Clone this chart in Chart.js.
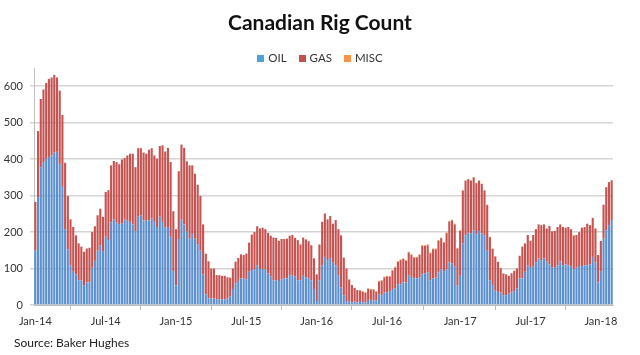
<!DOCTYPE html>
<html>
<head>
<meta charset="utf-8">
<script src="https://cdn.jsdelivr.net/npm/chart.js@4/dist/chart.umd.min.js"></script>
<style>
  html, body { margin: 0; padding: 0; background: #fff; }
  #wrap { position: relative; width: 640px; height: 355px; overflow: hidden; font-family: Lato, "Liberation Sans", sans-serif; }
  #c { position: absolute; left: 0; top: 0; }
  #title { position: absolute; left: 0; width: 640px; top: 9px; text-align: center; font-weight: bold; font-size: 21px; line-height: 26px; color: #111; }
  #legend { position: absolute; left: 0; width: 640px; top: 51px; display: flex; justify-content: center; gap: 12px; font-size: 11.5px; line-height: 14px; color: #333; }
  #legend span.item { display: inline-flex; align-items: center; }
  #legend i { display: inline-block; width: 7px; height: 7px; margin-right: 4px; }
  #source { position: absolute; left: 14px; top: 335px; font-size: 12px; line-height: 16px; color: #222; }
</style>
</head>
<body>
<div id="wrap">
  <canvas id="c" width="640" height="355"></canvas>
  <div id="title">Canadian Rig Count</div>
  <div id="legend">
    <span class="item"><i style="background:#4f9fd8"></i>OIL</span>
    <span class="item"><i style="background:#c0504d"></i>GAS</span>
    <span class="item"><i style="background:#f79646"></i>MISC</span>
  </div>
  <div id="source">Source: Baker Hughes</div>
</div>
<script>
// Weekly Canadian rig counts (Baker Hughes), first week ending 2014-01-03
const firstWeek = '2014-01-03';

const oil = [
  150,296,378,392,401,406,410,418,420,387,324,208,153,108,91,84,68,67,53,62,62,102,121,149,164,146,187,178,226,235,226,222,223,234,231,228,
  221,203,242,246,232,231,232,237,228,214,242,228,212,214,187,93,53,181,234,221,201,182,195,182,167,149,84,29,18,18,18,16,16,15,15,18,
  23,44,59,66,73,73,70,91,96,98,109,99,99,97,87,78,68,68,66,70,73,73,82,82,78,68,68,80,76,73,68,44,11,68,109,132,
  123,129,116,109,82,48,27,11,9,7,9,7,11,7,7,14,14,12,12,29,27,34,34,38,44,46,57,57,62,62,82,77,73,73,76,84,
  87,89,68,73,75,89,98,93,98,117,114,105,53,80,169,191,198,196,205,193,203,196,190,149,68,55,39,36,34,27,27,31,34,38,46,73,
  73,91,109,102,105,117,128,123,128,119,111,102,102,109,120,109,111,109,105,98,102,107,107,109,109,111,132,117,62,93,182,205,219,233
];

const gas = [
  133,181,187,199,208,214,214,213,204,201,197,182,146,127,123,107,101,93,93,93,95,98,95,97,100,96,123,137,157,160,166,164,176,169,179,187,
  194,175,188,184,186,184,194,193,182,187,194,210,209,217,205,164,155,186,206,210,193,201,188,178,163,150,137,112,102,82,82,66,66,65,65,58,
  52,56,60,63,66,64,71,80,97,102,107,111,113,111,111,112,117,116,110,111,108,109,108,110,106,110,98,105,104,102,96,84,73,98,119,119,
  112,115,107,124,126,143,103,89,61,48,38,34,28,29,26,30,28,30,24,35,39,42,44,40,50,57,61,66,64,59,62,60,57,57,61,78,
  75,75,74,80,78,87,85,78,99,112,118,116,102,123,144,149,147,145,145,141,138,136,124,125,118,99,94,82,67,59,57,49,53,56,54,62,
  87,78,83,74,87,91,93,96,93,91,106,100,101,105,101,105,101,105,103,92,90,93,105,105,114,108,107,93,75,83,93,118,118,109
];

const misc = [
  0,0,0,0,0,0,0,0,0,0,0,0,0,0,0,0,0,0,0,0,0,0,0,0,0,0,0,0,0,0,0,0,0,0,0,0,
  0,0,0,0,0,0,0,0,0,0,0,0,0,0,0,0,0,0,0,0,0,0,0,0,0,0,0,0,0,0,0,0,0,0,0,0,
  0,0,0,0,0,0,0,0,0,0,0,0,0,0,0,0,0,0,0,0,0,0,0,0,0,0,0,0,0,0,0,0,0,0,0,0,
  0,0,0,0,0,0,0,0,0,0,0,0,2,2,2,2,2,2,2,2,2,2,2,2,2,2,2,2,2,2,2,2,2,2,2,2,
  2,2,2,2,2,2,2,2,2,2,2,2,2,2,2,2,1,1,1,1,1,1,1,1,1,1,1,1,1,1,1,0,0,0,0,0,
  0,0,0,0,0,0,0,0,0,0,0,0,0,0,0,0,0,0,0,2,0,0,0,0,0,0,0,0,0,0,0,0,0,0
];

const yTicks = [0, 100, 200, 300, 400, 500, 600];
const monthNames = ['Jan','Feb','Mar','Apr','May','Jun','Jul','Aug','Sep','Oct','Nov','Dec'];

// weekly category labels
const weeks = [];
{
  const start = new Date(firstWeek + 'T00:00:00Z');
  for (let i = 0; i < oil.length; i++) {
    const d = new Date(start.getTime() + i * 7 * 86400000);
    weeks.push(d.toISOString().slice(0, 10));
  }
}
const tickIdx = new Set();
weeks.forEach((w, i) => {
  const m = +w.slice(5, 7), day = +w.slice(8, 10);
  if ((m === 1 || m === 7) && day <= 7) tickIdx.add(i);
});
function fmtWeek(w) {
  return monthNames[+w.slice(5, 7) - 1] + '-' + w.slice(2, 4);
}

const tickFont = { family: 'Lato, "Liberation Sans", sans-serif', size: 11 };

new Chart(document.getElementById('c'), {
  type: 'bar',
  data: {
    labels: weeks,
    datasets: [
      { label: 'OIL', data: oil, backgroundColor: '#5b8fcf', borderWidth: 0 },
      { label: 'GAS', data: gas, backgroundColor: '#c65350', borderWidth: 0 },
      { label: 'MISC', data: misc, backgroundColor: '#f79646', borderWidth: 0 }
    ]
  },
  options: {
    responsive: false,
    animation: false,
    devicePixelRatio: 1,
    layout: { padding: { top: 68, right: 27, bottom: 0, left: 0 } },
    datasets: { bar: { barPercentage: 0.78, categoryPercentage: 1.0 } },
    plugins: { legend: { display: false }, tooltip: { enabled: false }, title: { display: false } },
    scales: {
      x: {
        stacked: true,
        offset: true,
        grid: { display: true, drawOnChartArea: false, drawTicks: true, tickLength: 5, color: '#bfbfbf', offset: true },
        border: { display: true, color: '#bfbfbf', width: 1 },
        ticks: {
          autoSkip: false, maxRotation: 0, minRotation: 0, padding: 5,
          font: tickFont, color: '#333',
          callback: function (v) { return fmtWeek(weeks[v]); }
        },
        afterBuildTicks: s => { s.ticks = s.ticks.filter(t => tickIdx.has(t.value)); },
        afterFit: s => { s.height = 50; }
      },
      y: {
        stacked: true,
        min: 0,
        max: 650,
        grid: { color: '#d4d4d4', lineWidth: 1.5, drawTicks: true, tickLength: 4 },
        border: { display: true, color: '#bfbfbf', width: 1 },
        ticks: { stepSize: 100, padding: 7, font: tickFont, color: '#333' },
        afterBuildTicks: s => { s.ticks = yTicks.map(v => ({ value: v })); },
        afterFit: s => { s.width = 34; }
      }
    }
  }
});
</script>
</body>
</html>
